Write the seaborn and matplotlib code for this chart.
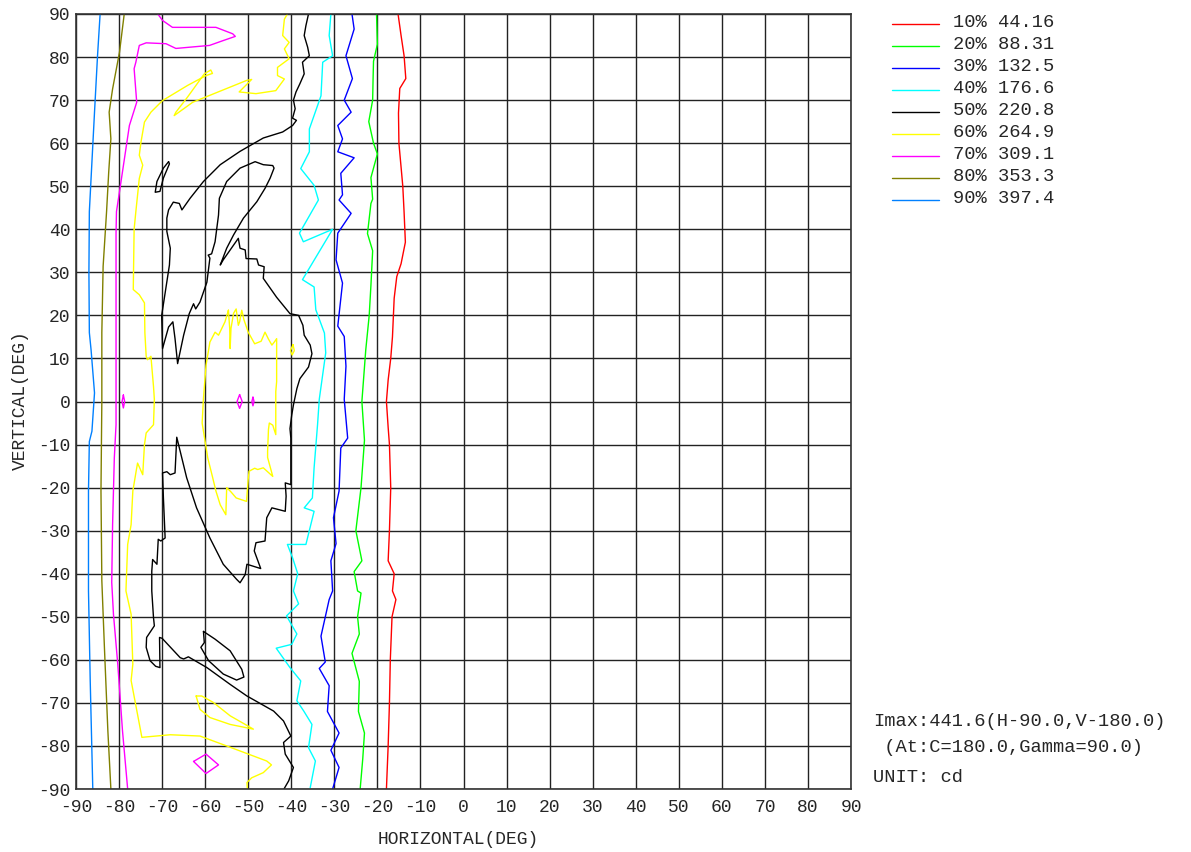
import matplotlib
matplotlib.use("Agg")
import matplotlib.pyplot as plt
import seaborn as sns
from matplotlib.lines import Line2D

# isocandela levels (percent of Imax, cd)
levels = ["10% 44.16", "20% 88.31", "30% 132.5", "40% 176.6", "50% 220.8",
          "60% 264.9", "70% 309.1", "80% 353.3", "90% 397.4"]
level_colors = ["#ff0000", "#00ff00", "#0000ff", "#00ffff", "#000000",
                "#ffff00", "#ff00ff", "#808000", "#0080ff"]

# contour traces as (horizontal, vertical) degrees
red_10 = [[(-15.2, 90), (-14.5, 85), (-13.8, 80.3), (-13.4, 75), (-14.8, 72.7), (-15.1, 67), (-15.0, 60),
           (-14.1, 50), (-13.8, 44), (-13.5, 37), (-14.5, 32), (-15.5, 29), (-16.1, 24), (-16.5, 15),
           (-16.9, 10), (-17.5, 5), (-17.9, 0), (-17.5, -6), (-17.2, -10), (-16.9, -20), (-17.2, -30),
           (-17.5, -37), (-16.1, -40), (-16.5, -44), (-15.7, -46), (-16.6, -50), (-17.0, -60),
           (-17.2, -70), (-17.5, -80), (-17.9, -90)]]

green_20 = [[(-20.2, 90), (-20.0, 83), (-20.9, 79), (-21.0, 75), (-21.1, 70), (-22.0, 65), (-20.9, 60),
             (-20.0, 57.5), (-21.5, 52), (-21.1, 47), (-21.5, 46), (-22.3, 39), (-21.1, 35), (-21.5, 27),
             (-21.9, 20), (-22.7, 12), (-23.6, 0), (-23.0, -9), (-23.8, -20), (-25.0, -30), (-23.6, -37),
             (-25.4, -39.5), (-24.6, -44), (-23.8, -44.5), (-24.6, -50), (-24.2, -54), (-25.9, -58.5),
             (-24.2, -65), (-24.4, -72), (-23.0, -77), (-23.4, -83), (-24.0, -90)]]

blue_30 = [[(-25.9, 90), (-25.4, 86.5), (-27.3, 80.3), (-25.8, 75), (-27.7, 70), (-26.1, 67.2), (-29.2, 64.1),
            (-28.1, 61), (-29.2, 58), (-25.4, 56.6), (-28.5, 53), (-28.1, 48), (-28.9, 46.8), (-26.1, 43.7),
            (-29.2, 39.1), (-29.6, 32.9), (-28.1, 27.5), (-29.2, 17.5), (-27.7, 15.1), (-27.3, 8.2),
            (-27.7, 0.5), (-26.9, -8.5), (-28.5, -10.8), (-28.9, -20.8), (-30.2, -27), (-29.6, -33),
            (-30.8, -37), (-30.4, -44), (-31.2, -46), (-33.1, -54.5), (-32.1, -60.5), (-33.5, -62),
            (-31.2, -66), (-31.6, -72), (-28.9, -77), (-30.8, -81), (-28.9, -85), (-30.4, -90)]]

cyan_40 = [[(-30.8, 90), (-31.2, 85), (-30.4, 80.3), (-32.7, 78.8), (-33.1, 71), (-35.8, 63.3), (-35.8, 58),
            (-37.8, 54.1), (-34.7, 50.2), (-33.7, 46.8), (-38.1, 39.1), (-37.2, 37.1), (-30.4, 40.0),
            (-37.4, 28.3), (-34.7, 26.6), (-34.3, 21.3), (-32.3, 15.9), (-32.0, 11.3), (-33.5, 0.5),
            (-33.9, -5.4), (-34.7, -15.4), (-35.1, -22.4), (-37.0, -24.7), (-34.7, -25.5), (-36.6, -33.2),
            (-40.9, -33.2), (-39.7, -36.3), (-38.5, -40), (-39.5, -44), (-38.3, -47), (-41.1, -49.8),
            (-38.7, -54), (-39.9, -56.4), (-43.5, -57.3), (-40.3, -61.8), (-37.8, -64.9), (-38.7, -69.5),
            (-37.1, -71.9), (-35.2, -75), (-36.0, -80.4), (-34.4, -83.5), (-35.6, -89.7)]]

black_50 = [
    [(-36.0, 90), (-36.6, 87.3), (-37.0, 85), (-36.2, 82.3), (-35.8, 80.3), (-37.4, 78.8), (-37.0, 76.1),
     (-38.0, 73.8), (-38.9, 71.9), (-39.5, 70), (-39.1, 68), (-39.7, 65.8), (-38.8, 65.3), (-39.7, 64.1),
     (-42.0, 62.6), (-46.5, 61.2), (-51.9, 58.1), (-56.5, 55), (-60.4, 51.1), (-63.5, 47.2), (-65.4, 44.5),
     (-66.0, 46.0), (-67.4, 46.3), (-68.5, 44.5), (-68.9, 42.6), (-68.9, 39.5), (-68.1, 35.6), (-68.3, 31.7),
     (-68.9, 27.8), (-70.1, 20), (-69.9, 12.3), (-68.5, 17.3), (-67.5, 18.5), (-67.0, 14.6), (-66.4, 8.8),
     (-65.0, 15.4), (-63.7, 20.4), (-62.7, 22.7), (-62.2, 21.5), (-61.2, 23.1), (-59.6, 27.7), (-58.9, 33.3),
     (-59.3, 34.0), (-58.5, 34.3), (-57.7, 37.1), (-56.9, 43.3), (-56.7, 47.2), (-55.0, 51.1), (-51.9, 54.2),
     (-48.4, 55.7), (-46.5, 55), (-44.3, 54.8), (-44.0, 54.2), (-44.9, 51.9), (-46.1, 49.5), (-48.0, 46.4),
     (-51.1, 42.6), (-53.4, 38.7), (-55.0, 35.6), (-56.5, 31.7), (-55.8, 32.9), (-52.3, 37.9), (-51.9, 35.6),
     (-50.7, 35.2), (-50.5, 33.2), (-48.0, 33.1), (-47.6, 31.7), (-46.3, 31.3), (-46.5, 28.6), (-43.4, 24.2),
     (-40.3, 20.4), (-38.3, 20), (-37.3, 17.7), (-37.0, 15.4), (-35.6, 13.1), (-35.2, 11.1), (-36.0, 8.0),
     (-38.0, 5.3), (-38.7, 3.0), (-39.5, -0.8), (-39.9, -3.2), (-40.3, -6.3), (-40.1, -8.5), (-40.1, -19.3),
     (-41.4, -18.9), (-41.2, -22), (-41.4, -25.5), (-44.5, -24.7), (-45.7, -27.0), (-46.1, -32.4),
     (-48.2, -32.8), (-48.6, -34.7), (-47.1, -38.8), (-50.3, -37.8), (-50.7, -40.2), (-51.9, -42.1),
     (-52.7, -41.3), (-55.8, -37.8), (-58.9, -31.7), (-62.0, -24.7), (-64.3, -17.7), (-65.8, -11.5),
     (-66.6, -8.3), (-67.0, -16.6), (-68.1, -17.0), (-68.9, -16.3), (-69.9, -16.6), (-69.7, -22.4),
     (-69.3, -31.7), (-70.3, -32.4), (-70.9, -32.0), (-71.2, -37.8), (-72.2, -36.7), (-72.4, -39.4),
     (-72.4, -44.0), (-72.0, -50.2), (-71.8, -52.1), (-73.6, -54.8), (-73.7, -57.1), (-72.8, -60.2),
     (-71.5, -61.5), (-70.5, -61.8), (-70.6, -54.8), (-70.0, -55.0), (-65.8, -59.5), (-65.0, -59.8),
     (-63.9, -59.3), (-59.6, -61.8), (-54.2, -65.7), (-50.3, -68.4), (-44.1, -71.9), (-41.8, -74.2),
     (-40.1, -77.7), (-41.8, -79.2), (-41.4, -81.9), (-39.5, -85.0), (-40.6, -88.1), (-41.7, -90)],
    [(-68.5, 55.7), (-68.3, 55.2), (-69.7, 51.9), (-70.5, 48.8), (-71.6, 48.6), (-71.2, 51.1),
     (-69.7, 54.2), (-68.5, 55.7)],
    [(-60.4, -53.4), (-60.2, -56.0), (-61.0, -57.1), (-59.2, -60.2), (-55.8, -63.3), (-52.7, -64.7),
     (-51.0, -64.0), (-51.5, -62.2), (-54.2, -57.9), (-57.7, -55.2), (-60.4, -53.4)],
]

yellow_60 = [
    [(-40.9, 90), (-41.6, 88.8), (-42.0, 85), (-40.5, 83.4), (-41.6, 81.9), (-40.5, 79.6), (-43.2, 77.6),
     (-43.2, 75.7), (-41.6, 74.9), (-43.6, 72.2), (-48.2, 71.5), (-52.1, 71.9), (-49.2, 74.8), (-50.3, 74.6),
     (-62.9, 69.5), (-67.2, 66.4), (-66.8, 67.2), (-64.1, 70.7), (-60.2, 76.1), (-58.7, 77.0), (-58.3, 76.2),
     (-59.8, 75.7), (-64.1, 73.4), (-69.9, 69.9), (-72.6, 67.2), (-74.1, 64.9), (-74.9, 60.3), (-75.3, 57.2),
     (-74.5, 54.9), (-75.3, 51.8), (-76.1, 44.1), (-76.5, 40), (-76.7, 26), (-75.3, 24.8), (-74.1, 22.9),
     (-74.0, 15.9), (-73.7, 10.5), (-73.4, 9.7), (-72.6, 10.5), (-72.0, 3.5), (-71.8, 0.5), (-72.0, -5.4),
     (-73.7, -7.3), (-74.1, -10.0), (-74.5, -17), (-75.7, -14.3), (-76.0, -16), (-76.8, -20.8),
     (-77.2, -28.6), (-78.0, -33.2), (-78.4, -44), (-77.2, -49.4), (-76.8, -61), (-77.2, -64.8),
     (-74.7, -78.0), (-68.1, -77.4), (-61.2, -77.7), (-55.0, -80), (-45.7, -83.5), (-44.6, -84.4),
     (-46.5, -86.2), (-49.2, -87.4), (-50.3, -88.5), (-50.2, -90)],
    [(-54.6, 21.2), (-55.4, 18.5), (-56.9, 15.4), (-57.7, 16.1), (-58.9, 13.8), (-59.8, 8.4), (-60.4, 0.7),
     (-60.7, -5), (-59.4, -13.1), (-58.3, -17.5), (-57.5, -20.8), (-56.5, -24), (-55.2, -26.3), (-55.0, -20.0),
     (-54.0, -21.0), (-52.8, -22.4), (-50.4, -23.2), (-50.0, -18), (-49.8, -16.2), (-48.5, -15.5),
     (-47.8, -15.8), (-46.5, -15.4), (-44.3, -17.4), (-45.5, -13), (-45.5, -11.6), (-45.3, -6.5),
     (-45.1, -5.0), (-44.3, -5.5), (-43.6, -7.7), (-43.6, 2.3), (-43.4, 4.6), (-43.4, 14.6), (-43.8, 14.0),
     (-44.5, 13.1), (-45.3, 14.5), (-46.1, 16.1), (-47.0, 14), (-48.5, 13.4), (-50.0, 16.1), (-51.0, 19.0),
     (-51.5, 21.2), (-52.0, 18.5), (-52.3, 17.7), (-52.8, 21.5), (-53.4, 20.5), (-54.0, 17), (-54.2, 12.3),
     (-54.3, 17), (-54.6, 21.2)],
    [(-39.6, 13.2), (-39.3, 11.8), (-39.8, 10.8), (-40.2, 11.8), (-39.6, 13.2)],
    [(-62.1, -68.4), (-61.2, -71.5), (-58.9, -73.4), (-54.2, -75.0), (-48.8, -76.1), (-50.0, -75.4),
     (-54.2, -73.0), (-58.1, -69.9), (-60.8, -68.4), (-62.1, -68.4)],
]

magenta_70 = [
    [(-71.0, 90), (-69.9, 88.5), (-67.6, 86.9), (-57.5, 86.9), (-53.6, 85.4), (-53.0, 84.8), (-55.9, 83.8),
     (-59.0, 82.7), (-66.8, 82.0), (-69.1, 83.1), (-73.7, 83.3), (-75.3, 82.7), (-76.1, 78.8), (-76.5, 77.3),
     (-75.9, 69.5), (-77.6, 64.1), (-79.9, 48.7), (-80.6, 44.1), (-80.7, 39.1), (-80.7, 0), (-80.7, -5.4),
     (-81.1, -13.1), (-81.5, -28.6), (-81.7, -42), (-81.3, -49.4), (-80.3, -61), (-79.2, -76.5), (-78.0, -90)],
    [(-79.0, 1.5), (-78.7, 0), (-79.0, -1.5), (-79.3, 0), (-79.0, 1.5)],
    [(-52.0, 1.6), (-51.4, 0), (-52.0, -1.6), (-52.6, 0), (-52.0, 1.6)],
    [(-48.9, 1.0), (-48.65, 0), (-48.9, -1.0), (-49.15, 0), (-48.9, 1.0)],
    [(-62.7, -83.6), (-59.8, -81.9), (-56.9, -84.4), (-59.8, -86.4), (-62.7, -83.6)],
]

olive_80 = [[(-78.8, 90), (-79.9, 81.1), (-81.5, 72.6), (-82.3, 67.2), (-81.9, 61), (-82.4, 53.3),
             (-82.9, 44.1), (-83.7, 31.4), (-84.0, 16), (-84.0, 0), (-84.2, -20.8), (-84.0, -41.6),
             (-83.4, -57.1), (-82.6, -76.5), (-81.9, -90)]]

azure_90 = [[(-84.4, 90), (-85.0, 80.3), (-85.7, 67.2), (-86.5, 51.8), (-86.9, 44.1), (-87.0, 30),
             (-86.9, 16), (-86.5, 12), (-85.7, 2), (-86.3, -6.9), (-86.9, -9.3), (-87.1, -20.8),
             (-87.1, -44), (-86.7, -64.8), (-86.1, -90)]]

contours = [red_10, green_20, blue_30, cyan_40, black_50, yellow_60, magenta_70, olive_80, azure_90]
ticks = list(range(-90, 91, 10))

sns.set_style("white")
plt.rcParams['font.family'] = ['Liberation Mono', 'DejaVu Sans']
plt.rcParams['axes.unicode_minus'] = False

W, H = 1191, 852
fig = plt.figure(figsize=(W / 100, H / 100), dpi=100)
ax = fig.add_axes([76 / W, 1 - 789 / H, 775 / W, 775 / H])

# draw each isoline segment in order
for segs, col in zip(contours, level_colors):
    for seg in segs:
        sns.lineplot(x=[p[0] for p in seg], y=[p[1] for p in seg], sort=False, estimator=None,
                     color=col, linewidth=1.0, ax=ax, legend=False)

ax.set_xlim(-90, 90)
ax.set_ylim(-90, 90)
ax.set_xticks(ticks)
ax.set_yticks(ticks)
ax.grid(True, color="#222222", linewidth=1.0)
ax.set_axisbelow(True)
ax.tick_params(length=0, labelsize=13, pad=7)
ax.tick_params(axis="y", pad=4)
for s in ax.spines.values():
    s.set_color("#333333")
    s.set_linewidth(1.2)
ax.set_xlabel("")
ax.set_ylabel("")

fig.text(458 / W, 1 - 840 / H, "HORIZONTAL(DEG)", ha="center", va="center", fontsize=13)
fig.text(20 / W, 1 - 400 / H, "VERTICAL(DEG)", ha="center", va="center", rotation=90, fontsize=13)

# legend rows
for i, (lab, col) in enumerate(zip(levels, level_colors)):
    yy = 1 - (24 + 22 * i) / H
    fig.add_artist(Line2D([892 / W, 939 / W], [yy, yy], color=col, linewidth=1.0))
    fig.text(953 / W, yy + 1.5 / H, lab, ha="left", va="center", fontsize=13.5)

fig.text(873 / W, 1 - 722 / H, "Imax:441.6(H-90.0,V-180.0)", ha="left", va="center", fontsize=13.5)
fig.text(873 / W, 1 - 748 / H, " (At:C=180.0,Gamma=90.0)", ha="left", va="center", fontsize=13.5)
fig.text(873 / W, 1 - 777 / H, "UNIT: cd", ha="left", va="center", fontsize=13.5)

fig.savefig("out.png", dpi=100, facecolor="white")
